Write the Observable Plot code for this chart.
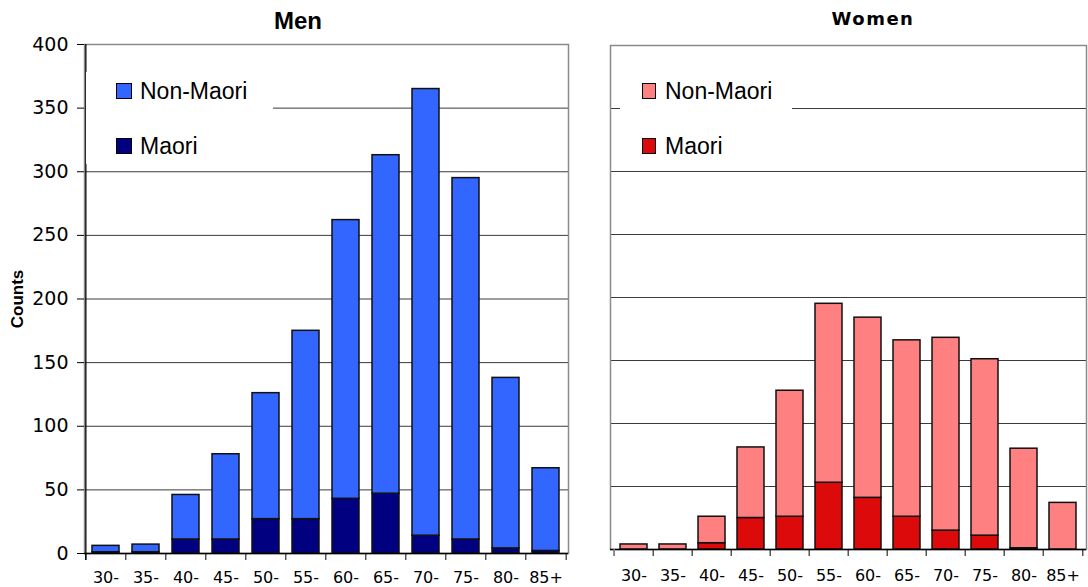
<!DOCTYPE html>
<html><head><meta charset="utf-8">
<script src="https://cdn.jsdelivr.net/npm/d3@7"></script>
<script src="https://cdn.jsdelivr.net/npm/@observablehq/plot@0.6"></script>
<style>
body{margin:0;background:#fff;}
#wrap{position:relative;width:1088px;height:587px;overflow:hidden;font-family:"Liberation Sans",Arial,sans-serif;color:#000;}
.panel{position:absolute;top:0;}
.title{position:absolute;font-weight:bold;white-space:nowrap;line-height:1;transform:translateX(-50%);}
.legend{position:absolute;background:#fff;}
.item{position:absolute;white-space:nowrap;font-size:23px;line-height:1;}
.sw{position:absolute;border:1.5px solid #000;box-sizing:border-box;}
.ylab{position:absolute;font-weight:bold;font-size:17px;white-space:nowrap;line-height:1;transform:translate(-50%,-50%) rotate(-90deg);}
</style></head><body><div id="wrap"></div>
<script>
const ageGroups = ["30-","35-","40-","45-","50-","55-","60-","65-","70-","75-","80-","85+"];
const groups = ["Maori","Non-Maori"];
const menMaori      = [1, 1, 11, 11, 27, 27, 43, 47, 14, 11, 4, 2];
const menNonMaori   = [5, 6, 35, 67, 99, 148, 219, 266, 351, 284, 134, 65];
const womenMaori    = [0, 0, 5, 25, 26, 53, 41, 26, 15, 11, 1, 0];
const womenNonMaori = [4, 4, 21, 56, 100, 142, 143, 140, 153, 140, 79, 37];
const yTicks = [0, 50, 100, 150, 200, 250, 300, 350, 400];
const menColors = ["#000080", "#3366FF"];
const womenColors = ["#DC0A0A", "#FF8080"];

const wrap = document.getElementById("wrap");

function rows(maori, nonMaori) {
  const out = [];
  ageGroups.forEach((a, i) => {
    out.push({age: a, group: groups[0], value: maori[i]});
    out.push({age: a, group: groups[1], value: nonMaori[i]});
  });
  return out;
}

function panel(cfg) {
  const frameW = cfg.width - cfg.marginLeft - cfg.marginRight;
  const frameH = cfg.height - cfg.marginTop - cfg.marginBottom;
  const step = frameW / ageGroups.length;
  const marks = [
    Plot.ruleY(yTicks.filter(t => t > 0 && t < 400), {stroke: "#3a3a3a", strokeWidth: 1}),
    Plot.frame({stroke: "#8a8a8a", strokeWidth: 1.5}),
    Plot.barY(rows(cfg.maori, cfg.nonMaori), {x: "age", y: "value", fill: "group", stroke: "#111", strokeWidth: 1.5}),
    Plot.ruleY([0], {stroke: "#000", strokeWidth: 1.3}),
    Plot.ruleX(ageGroups, {x: d => d, dx: -step / 2, insetTop: frameH, insetBottom: -7, stroke: "#000", strokeWidth: 1}),
    Plot.ruleX([ageGroups[ageGroups.length - 1]], {x: d => d, dx: step / 2, insetTop: frameH, insetBottom: -7, stroke: "#000", strokeWidth: 1}),
    Plot.axisX({tickSize: 0, tickPadding: cfg.xPad, fontSize: 16, label: null, fontFamily: "DejaVu Sans"})
  ];
  if (cfg.yAxis) {
    marks.push(Plot.ruleX([ageGroups[0]], {x: d => d, dx: -step / 2, insetBottom: -7, stroke: "#000", strokeWidth: 1.3}));
    marks.push(Plot.axisY({ticks: yTicks, tickSize: 7, tickPadding: 9, fontSize: 19, label: null, fontFamily: "DejaVu Sans"}));
  } else {
    marks.push(Plot.ruleX([ageGroups[0]], {x: d => d, dx: -step / 2, insetTop: frameH, insetBottom: -7, stroke: "#8a8a8a", strokeWidth: 1.5}));
  }
  const svg = Plot.plot({
    width: cfg.width, height: cfg.height,
    marginLeft: cfg.marginLeft, marginRight: cfg.marginRight,
    marginTop: cfg.marginTop, marginBottom: cfg.marginBottom,
    style: {background: "transparent", color: "#000", fontFamily: "Liberation Sans, Arial, sans-serif"},
    x: {domain: ageGroups, paddingInner: 0.32, paddingOuter: 0.16, axis: null},
    y: {domain: [0, 400], axis: null},
    color: {domain: groups, range: cfg.colors},
    marks
  });
  svg.classList.add("panel");
  svg.style.left = cfg.left + "px";
  wrap.appendChild(svg);
}

panel({left: 0, width: 575, height: 587, marginLeft: 84, marginRight: 7, marginTop: 44, marginBottom: 34,
  maori: menMaori, nonMaori: menNonMaori, colors: menColors, yAxis: true, xPad: 18});
panel({left: 575, width: 513, height: 587, marginLeft: 35, marginRight: 2, marginTop: 45, marginBottom: 38,
  maori: womenMaori, nonMaori: womenNonMaori, colors: womenColors, yAxis: false, xPad: 20});

function addDiv(cls, css, text) {
  const d = document.createElement("div");
  d.className = cls;
  Object.assign(d.style, css);
  if (text != null) d.textContent = text;
  wrap.appendChild(d);
  return d;
}

// titles
addDiv("title", {left: "298px", top: "9px", fontSize: "24px"}, "Men");
addDiv("title", {left: "873px", top: "10px", fontSize: "18px", fontFamily: "DejaVu Sans", letterSpacing: "1.5px"}, "Women");
addDiv("ylab", {left: "17px", top: "299px"}, "Counts");

// legends
function legend(x0, boxW, swX, swW, textX, colors) {
  addDiv("legend", {left: x0 + "px", top: "72px", width: boxW + "px", height: "92px"});
  const entries = [[groups[1], colors[1], 83], [groups[0], colors[0], 138]];
  for (const [name, col, y] of entries) {
    addDiv("sw", {left: swX + "px", top: y + "px", width: swW + "px", height: "16px", background: col});
    addDiv("item", {left: textX + "px", top: (y - 3) + "px"}, name);
  }
}
legend(86, 187, 116, 16, 140, menColors);
legend(620, 172, 642, 14, 665, womenColors);
</script>
</body></html>
